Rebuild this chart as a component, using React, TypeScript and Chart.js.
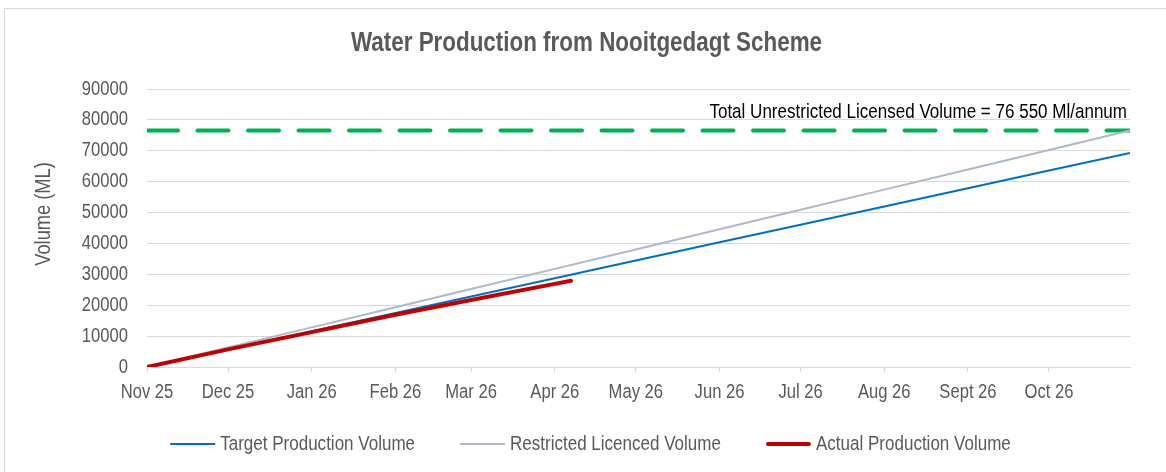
import React, { useEffect, useRef } from "react";
import { Chart, registerables } from "chart.js";

Chart.register(...registerables);

const FONT = '"Liberation Sans", Arial, sans-serif';
const NARROW = 0.83; // horizontal condensing of all text (Arial Narrow look)

const chartTitle = "Water Production from Nooitgedagt Scheme";
const yAxisTitle = "Volume (ML)";
const licenceNote = "Total Unrestricted Licensed Volume = 76 550 Ml/annum";

// x axis: days since 1 Nov 2025; ticks at month starts
const monthLabels = ["Nov 25", "Dec 25", "Jan 26", "Feb 26", "Mar 26", "Apr 26", "May 26", "Jun 26", "Jul 26", "Aug 26", "Sept 26", "Oct 26"];
const monthStartDays = [0, 30, 61, 92, 120, 151, 181, 212, 242, 273, 304, 334];
const axisEndDay = 364;

const yTicksMax = 90000;
const yTickStep = 10000;

// series (values read at month starts + end of Oct 26)
const seriesDays = [0, 30, 61, 92, 120, 151, 181, 212, 242, 273, 304, 334, 364];
const targetValues = [0, 5710, 11610, 17510, 22850, 28750, 34460, 40360, 46070, 51970, 57880, 63590, 69300];
const restrictedValues = [0, 6310, 12830, 19350, 25240, 31760, 38070, 44590, 50900, 57420, 63930, 70240, 76550];

const actualDays = [0, 30, 61, 92, 120, 151, 157];
const actualValues = [0, 5700, 11300, 16900, 21700, 26900, 27900];

const licensedVolume = 76550;
const licenceLineDays = [0, 364];

const overlayPlugin = {
  id: "overlayText",
  afterDraw(chart: any) {
    const ctx = chart.ctx;
    const area = chart.chartArea;
    const yScale = chart.scales.y;

    // y-axis title
    ctx.save();
    ctx.font = `22px ${FONT}`;
    ctx.fillStyle = "#595959";
    ctx.textAlign = "center";
    ctx.textBaseline = "middle";
    ctx.translate(44, 214);
    ctx.rotate(-Math.PI / 2);
    ctx.fillText(yAxisTitle, 0, 0);
    ctx.restore();

    // licence annotation
    ctx.save();
    ctx.font = `20.5px ${FONT}`;
    ctx.fillStyle = "#000000";
    ctx.textAlign = "right";
    ctx.textBaseline = "alphabetic";
    const yLine = yScale.getPixelForValue(licensedVolume);
    ctx.fillText(licenceNote, area.right - 3, yLine - 13);
    ctx.restore();

    // legend
    ctx.save();
    ctx.font = `20.5px ${FONT}`;
    const items = chart.data.datasets.slice(0, 3).map((ds: any) => ({
      label: ds.label,
      color: ds.borderColor,
      width: ds.borderWidth,
      cap: ds.borderCapStyle || "butt",
      textW: ctx.measureText(ds.label).width,
    }));
    const markerW = 45;
    const gap = 5;
    const itemGap = 45;
    const total = items.reduce((s: number, it: any) => s + markerW + gap + it.textW, 0) + itemGap * (items.length - 1);
    let x = 590.5 - total / 2;
    const y = 444;
    for (const it of items) {
      ctx.beginPath();
      ctx.strokeStyle = it.color;
      ctx.lineWidth = it.width;
      ctx.lineCap = it.cap;
      ctx.moveTo(x + (it.cap === "round" ? 2 : 0), y);
      ctx.lineTo(x + markerW - (it.cap === "round" ? 2 : 0), y);
      ctx.stroke();
      ctx.fillStyle = "#595959";
      ctx.textAlign = "left";
      ctx.textBaseline = "middle";
      ctx.fillText(it.label, x + markerW + gap, y);
      x += markerW + gap + it.textW + itemGap;
    }
    ctx.restore();
  },
};

function condenseText(ctx: any) {
  const origFill = ctx.fillText.bind(ctx);
  const origMeasure = ctx.measureText.bind(ctx);
  ctx.measureText = (t: string) => {
    const m = origMeasure(t);
    return {
      width: m.width * NARROW,
      actualBoundingBoxLeft: m.actualBoundingBoxLeft * NARROW,
      actualBoundingBoxRight: m.actualBoundingBoxRight * NARROW,
      actualBoundingBoxAscent: m.actualBoundingBoxAscent,
      actualBoundingBoxDescent: m.actualBoundingBoxDescent,
      fontBoundingBoxAscent: m.fontBoundingBoxAscent,
      fontBoundingBoxDescent: m.fontBoundingBoxDescent,
    };
  };
  ctx.fillText = (t: string, x: number, y: number, maxW?: number) => {
    const w = origMeasure(String(t)).width * NARROW;
    origFill(t, x, y, maxW !== undefined ? Math.min(maxW, w) : w);
  };
}

export default function App() {
  const canvasRef = useRef<HTMLCanvasElement | null>(null);

  useEffect(() => {
    document.body.style.margin = "0";
    document.body.style.background = "#ffffff";
    const canvas = canvasRef.current;
    if (!canvas) return;
    condenseText(canvas.getContext("2d"));

    const chart = new Chart(canvas, {
      type: "line",
      data: {
        datasets: [
          {
            label: "Target Production Volume",
            data: seriesDays.map((d, i) => ({ x: d, y: targetValues[i] })),
            borderColor: "#0070c0",
            backgroundColor: "#0070c0",
            borderWidth: 2,
            pointRadius: 0,
            tension: 0,
            order: 1,
          },
          {
            label: "Restricted Licenced Volume",
            data: seriesDays.map((d, i) => ({ x: d, y: restrictedValues[i] })),
            borderColor: "#adb9ca",
            backgroundColor: "#adb9ca",
            borderWidth: 2,
            pointRadius: 0,
            tension: 0,
            order: 2,
          },
          {
            label: "Actual Production Volume",
            data: actualDays.map((d, i) => ({ x: d, y: actualValues[i] })),
            borderColor: "#c00000",
            backgroundColor: "#c00000",
            borderWidth: 4,
            borderCapStyle: "round",
            borderJoinStyle: "round",
            pointRadius: 0,
            tension: 0,
            order: 0,
          },
          {
            label: "Licensed",
            data: licenceLineDays.map((d) => ({ x: d, y: licensedVolume })),
            borderColor: "#00b050",
            backgroundColor: "#00b050",
            borderWidth: 4,
            borderDash: [31, 19.5],
            borderCapStyle: "round",
            pointRadius: 0,
            tension: 0,
            order: 3,
          },
        ] as any,
      },
      options: {
        animation: false,
        responsive: false,
        maintainAspectRatio: false,
        layout: { padding: { left: 7, right: 0, top: 0, bottom: 48 } },
        plugins: {
          tooltip: { enabled: false },
          legend: { display: false },
          title: {
            display: true,
            text: chartTitle,
            color: "#595959",
            font: { family: FONT, size: 27, weight: "bold" },
            padding: { top: 27, bottom: 29.6 },
          },
        },
        scales: {
          x: {
            type: "linear",
            min: 0,
            max: axisEndDay,
            afterBuildTicks: (scale: any) => {
              scale.ticks = monthStartDays.map((v) => ({ value: v }));
            },
            afterFit: (scale: any) => {
              scale.height = 57;
            },
            ticks: {
              autoSkip: false,
              maxRotation: 0,
              minRotation: 0,
              padding: 8,
              color: "#595959",
              font: { family: FONT, size: 20 },
              callback: (_v: any, i: number) => monthLabels[i],
            },
            grid: {
              drawOnChartArea: false,
              drawTicks: true,
              tickLength: 5,
              color: "#d9d9d9",
            },
            border: { display: true, color: "#d9d9d9", width: 1 },
          },
          y: {
            min: 0,
            max: yTicksMax,
            afterFit: (scale: any) => {
              scale.width = 140;
            },
            ticks: {
              stepSize: yTickStep,
              padding: 19,
              color: "#595959",
              font: { family: FONT, size: 20 },
              callback: (v: any) => String(v),
            },
            grid: { color: "#d9d9d9", drawTicks: false, lineWidth: 1 },
            border: { display: false },
          },
          yRight: {
            position: "right",
            display: true,
            min: 0,
            max: 1,
            afterFit: (scale: any) => {
              scale.width = 36;
            },
            ticks: { display: false },
            grid: { display: false, drawTicks: false },
            border: { display: false },
          },
        },
      },
      plugins: [overlayPlugin],
    } as any);

    return () => chart.destroy();
  }, []);

  return (
    <div style={{ position: "fixed", left: 0, top: 0, width: 1166, height: 472, overflow: "hidden", background: "#fff" }}>
      <div
        style={{
          position: "absolute",
          left: 4,
          top: 8,
          width: 1200,
          height: 500,
          borderLeft: "1px solid #d9d9d9",
          borderTop: "1px solid #d9d9d9",
        }}
      />
      <canvas ref={canvasRef} width={1166} height={472} style={{ position: "absolute", left: 0, top: 0, width: 1166, height: 472 }} />
    </div>
  );
}
